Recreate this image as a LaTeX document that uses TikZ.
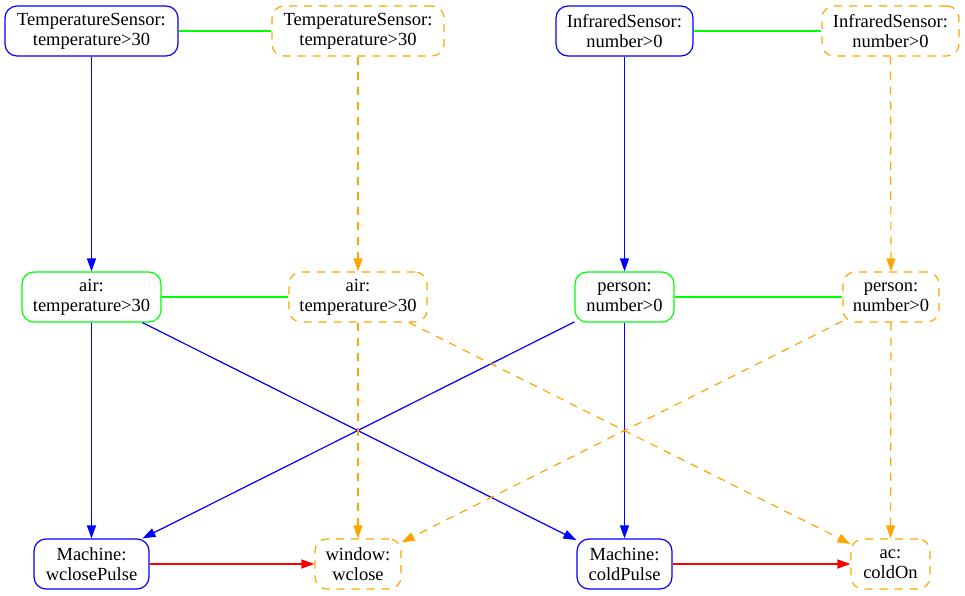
\documentclass[tikz,border=0pt]{standalone}
\usepackage{fontspec}
\setmainfont{Liberation Serif}
\usetikzlibrary{arrows.meta}
\definecolor{gvblue}{HTML}{0000FF}
\definecolor{gvgreen}{HTML}{00FF00}
\definecolor{gvorange}{HTML}{FFA500}
\definecolor{gvred}{HTML}{FF0000}
\begin{document}
\begin{tikzpicture}[x=1pt,y=-1pt,
  every node/.style={font=\fontsize{18.5}{20}\selectfont, align=center, inner sep=0pt},
  gvbox/.style={draw, rounded corners=12pt, line width=1.2pt, minimum height=50pt},
  bluebox/.style={gvbox, draw=gvblue},
  greenbox/.style={gvbox, draw=gvgreen},
  orangebox/.style={gvbox, draw=gvorange, dash pattern=on 8pt off 7pt},
  gvtip/.style={-{Triangle[length=13pt,width=9pt]}},
  blueedge/.style={gvtip, draw=gvblue, fill=gvblue, line width=1.2pt},
  orangeedge/.style={gvtip, draw=gvorange, line width=1.2pt, dash pattern=on 8pt off 7pt},
  rededge/.style={gvtip, draw=gvred, line width=1.2pt},
  greenedge/.style={draw=gvgreen, line width=1.2pt}
]
\useasboundingbox (0,0) rectangle (965,596);
% row 1
\node[bluebox, minimum width=173pt] (ts1) at (91.5,31) {TemperatureSensor:\\temperature>30};
\node[orangebox, minimum width=172pt] (ts2) at (358,31) {TemperatureSensor:\\temperature>30};
\node[bluebox, minimum width=137pt] (ir1) at (624.5,31) {InfraredSensor:\\number>0};
\node[orangebox, minimum width=137pt] (ir2) at (890.5,31) {InfraredSensor:\\number>0};
% row 2
\node[greenbox, minimum width=139pt] (air1) at (91.5,297) {air:\\temperature>30};
\node[orangebox, minimum width=138pt] (air2) at (358,297) {air:\\temperature>30};
\node[greenbox, minimum width=99pt] (p1) at (624.5,297) {person:\\number>0};
\node[orangebox, minimum width=96pt] (p2) at (891,297) {person:\\number>0};
% row 3
\node[bluebox, minimum width=115pt] (m1) at (91.5,564) {Machine:\\wclosePulse};
\node[orangebox, minimum width=86pt] (win) at (358,564) {window:\\wclose};
\node[bluebox, minimum width=95pt] (m2) at (624.5,564) {Machine:\\coldPulse};
\node[orangebox, minimum width=79pt] (ac) at (890.5,564) {ac:\\coldOn};
% green links
\draw[greenedge] (ts1) -- (ts2);
\draw[greenedge] (ir1) -- (ir2);
\draw[greenedge] (air1) -- (air2);
\draw[greenedge] (p1) -- (p2);
% vertical
\draw[blueedge] (ts1) -- (air1);
\draw[orangeedge] (ts2) -- (air2);
\draw[blueedge] (ir1) -- (p1);
\draw[orangeedge] (ir2) -- (p2);
% row2 to row3
\draw[blueedge] (air1) -- (m1);
\draw[blueedge] (air1) -- (m2);
\draw[blueedge] (p1) -- (m1);
\draw[blueedge] (p1) -- (m2);
\draw[orangeedge] (air2) -- (win);
\draw[orangeedge] (air2) -- (ac);
\draw[orangeedge] (p2) -- (win);
\draw[orangeedge] (p2) -- (ac);
% red
\draw[rededge] (m1) -- (win);
\draw[rededge] (m2) -- (ac);
\end{tikzpicture}
\end{document}
